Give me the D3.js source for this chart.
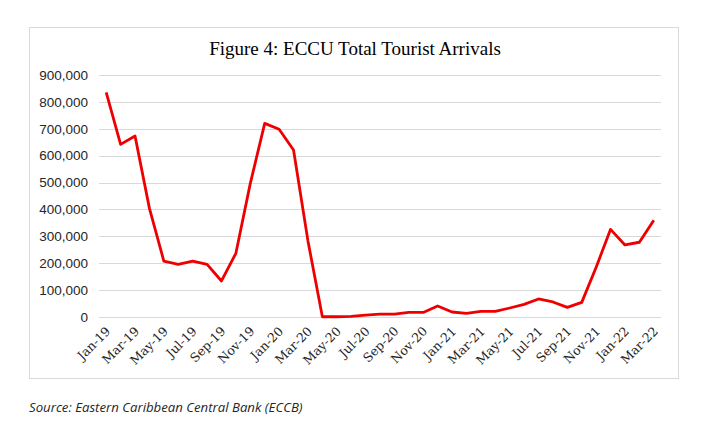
<!DOCTYPE html>
<html><head><meta charset="utf-8">
<script src="https://cdn.jsdelivr.net/npm/d3@7/dist/d3.min.js"></script>
<style>body{margin:0;background:#fff}</style>
</head><body>
<svg id="c" width="701" height="423"></svg>
<script>
const months = ["Jan-19","Feb-19","Mar-19","Apr-19","May-19","Jun-19","Jul-19","Aug-19","Sep-19","Oct-19","Nov-19","Dec-19",
"Jan-20","Feb-20","Mar-20","Apr-20","May-20","Jun-20","Jul-20","Aug-20","Sep-20","Oct-20","Nov-20","Dec-20",
"Jan-21","Feb-21","Mar-21","Apr-21","May-21","Jun-21","Jul-21","Aug-21","Sep-21","Oct-21","Nov-21","Dec-21",
"Jan-22","Feb-22","Mar-22"];
const arrivals = [835000,642000,673000,404000,208000,196000,208000,196000,134000,237000,497000,720000,
698000,621000,283000,1000,1000,2500,7000,11000,11000,17000,17000,41000,
18600,13600,21000,21000,33500,47000,67000,56000,36000,54500,185000,326000,
268000,278000,360000];
const yTicks = [0,100000,200000,300000,400000,500000,600000,700000,800000,900000];
const title = "Figure 4: ECCU Total Tourist Arrivals";
const source = "Source: Eastern Caribbean Central Bank (ECCB)";

const svg = d3.select("#c");
svg.append("rect").attr("x",29.5).attr("y",27.5).attr("width",649).attr("height",351)
  .attr("fill","#fff").attr("stroke","#d9d9d9").attr("stroke-width",1);

const x = d3.scaleBand().domain(months).range([99,661]);
const y = d3.scaleLinear().domain([0,900000]).range([317,75]);

const g = svg.append("g");
g.selectAll("line.grid").data(yTicks).join("line").attr("class","grid")
  .attr("x1",99).attr("x2",661).attr("y1",d=>Math.round(y(d))+0.5).attr("y2",d=>Math.round(y(d))+0.5)
  .attr("stroke","#d9d9d9").attr("stroke-width",1);

const yAxis = g.append("g").attr("transform","translate(88,0)")
  .call(d3.axisLeft(y).tickValues(yTicks).tickSize(0).tickPadding(0).tickFormat(d3.format(",")));
yAxis.select(".domain").remove();
yAxis.selectAll("text").attr("font-family","'Liberation Sans', Arial, sans-serif").attr("font-size","13.5px").attr("fill","#262626");

const xAxis = g.append("g").attr("transform","translate(0,317)")
  .call(d3.axisBottom(x).tickValues(months.filter((d,i)=>i%2===0)).tickSize(0).tickPadding(0));
xAxis.select(".domain").remove();
xAxis.selectAll("text")
  .attr("font-family","'DejaVu Serif', serif").attr("font-size","12.5px").attr("fill","#262626")
  .attr("text-anchor","end").attr("dy","0")
  .attr("transform","translate(5,15) rotate(-45)");

const line = d3.line().x((d,i)=>x(months[i])+x.bandwidth()/2).y(d=>y(d));
g.append("path").datum(arrivals).attr("d",line).attr("fill","none")
  .attr("stroke","#ee0000").attr("stroke-width",2.8).attr("stroke-linejoin","round");

svg.append("text").attr("x",355).attr("y",55).attr("text-anchor","middle")
  .attr("font-family","'Liberation Serif', 'Times New Roman', serif").attr("font-size","19px").attr("fill","#000").text(title);

svg.append("text").attr("x",29).attr("y",412)
  .attr("font-family","'Open Sans', sans-serif").attr("font-style","italic").attr("font-size","13.2px").attr("fill","#262626").text(source);
</script>
</body></html>
